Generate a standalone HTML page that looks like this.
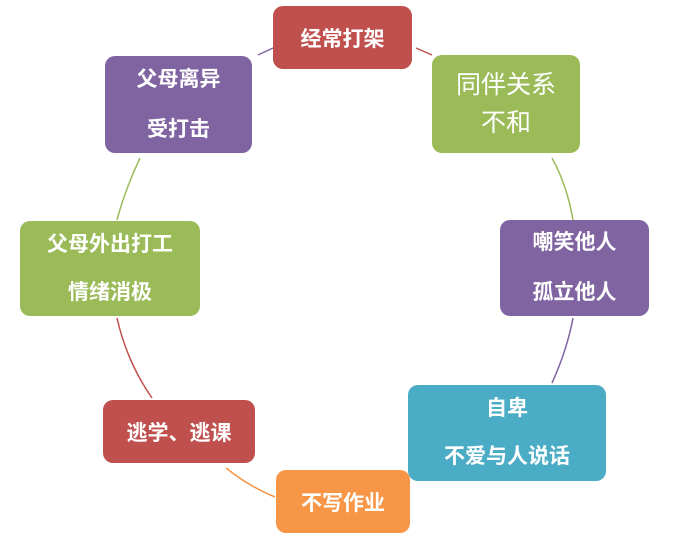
<!DOCTYPE html>
<html><head><meta charset="utf-8"><style>
body{margin:0;width:674px;height:539px;background:#fff;position:relative;overflow:hidden;font-family:"Liberation Sans","Noto Sans CJK SC",sans-serif}
.b{position:absolute;border-radius:10px;color:#fff;font-weight:bold;font-size:21px;display:flex;flex-direction:column;justify-content:center;align-items:center;text-align:center;box-sizing:border-box}
svg{position:absolute;left:0;top:0}
</style></head><body>
<svg width="674" height="539" fill="none" stroke-width="1.5">
<path d="M258,55 L273,48" stroke="#8064a2"/>
<path d="M416,48 L432,55" stroke="#c0504d"/>
<path d="M552,158 Q567,185 573,220" stroke="#9bbb59"/>
<path d="M573,318 Q567,350 552,383" stroke="#8064a2"/>
<path d="M418,478 L437,470" stroke="#4bacc6"/>
<path d="M226,468 Q250,487 275,497" stroke="#f79646"/>
<path d="M117,318 Q127,362 152,398" stroke="#c0504d"/>
<path d="M140,158 Q125,190 117,220" stroke="#9bbb59"/>
</svg>
<div class="b" style="left:273px;top:6px;width:139px;height:63px;background:#c0504d">经常打架</div>
<div class="b" style="left:432px;top:55px;width:148px;height:98px;background:#9bbb59;font-weight:normal;font-size:25px;line-height:38px">同伴关系<br>不和</div>
<div class="b" style="left:105px;top:56px;width:147px;height:97px;background:#8064a2;line-height:50px">父母离异<br>受打击</div>
<div class="b" style="left:20px;top:221px;width:180px;height:95px;background:#9bbb59;line-height:48px">父母外出打工<br>情绪消极</div>
<div class="b" style="left:500px;top:220px;width:149px;height:96px;background:#8064a2;line-height:50px">嘲笑他人<br>孤立他人</div>
<div class="b" style="left:408px;top:385px;width:198px;height:96px;background:#4bacc6;line-height:48px">自卑<br>不爱与人说话</div>
<div class="b" style="left:103px;top:400px;width:152px;height:63px;background:#c0504d">逃学、逃课</div>
<div class="b" style="left:276px;top:470px;width:134px;height:63px;background:#f79646">不写作业</div>
</body></html>
